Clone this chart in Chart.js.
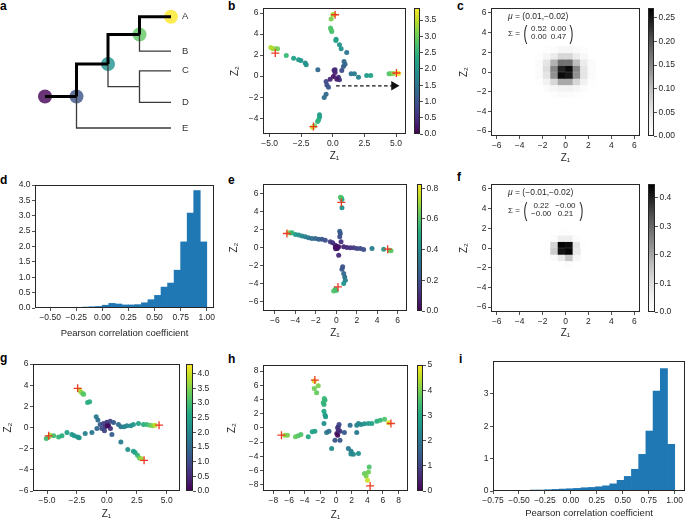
<!DOCTYPE html>
<html>
<head>
<meta charset="utf-8">
<script src="https://cdn.jsdelivr.net/npm/chart.js@4.4.1/dist/chart.umd.min.js"></script>
<style>
  html, body { margin: 0; padding: 0; background: #fff; }
  #fig { position: relative; width: 685px; height: 521px; overflow: hidden; font-family: "Liberation Sans", Arial, sans-serif; color: #262626; }
  .lbl { position: absolute; font-weight: bold; font-size: 12px; line-height: 12px; color: #000; }
  .ann { position: absolute; font-size: 8.5px; line-height: 8px; white-space: nowrap; z-index: 5; }
  .mat { position: absolute; display: flex; align-items: center; font-size: 8px; white-space: nowrap; z-index: 5; }
  .mat .par { font-size: 21px; line-height: 20px; display: inline-block; transform: scaleX(0.55); }
  .mat table { border-collapse: collapse; }
  .mat td { padding: 0 2px; line-height: 8px; text-align: center; }
</style>
</head>
<body>
<div id="fig">
  <div class="lbl" style="left:0px;top:0px">a</div>
  <div class="lbl" style="left:228px;top:0px">b</div>
  <div class="lbl" style="left:457px;top:0px">c</div>
  <div class="lbl" style="left:0px;top:174px">d</div>
  <div class="lbl" style="left:228px;top:174px">e</div>
  <div class="lbl" style="left:457px;top:171px">f</div>
  <div class="lbl" style="left:0px;top:352px">g</div>
  <div class="lbl" style="left:228px;top:353px">h</div>
  <div class="lbl" style="left:459px;top:353px">i</div>

  <div class="ann" style="left:508px;top:12px"><i>μ</i> = (0.01,−0.02)</div>
  <div class="mat" style="left:508px;top:23px"><span>Σ =&nbsp;</span><span class="par">(</span><table><tr><td>0.52</td><td>0.00</td></tr><tr><td>0.00</td><td>0.47</td></tr></table><span class="par">)</span></div>
  <div class="ann" style="left:508px;top:188px"><i>μ</i> = (−0.01,−0.02)</div>
  <div class="mat" style="left:508px;top:200px"><span>Σ =&nbsp;</span><span class="par">(</span><table><tr><td>0.22</td><td>−0.00</td></tr><tr><td>−0.00</td><td>0.21</td></tr></table><span class="par">)</span></div>
</div>
<script>
// ---------- data ----------

// a: tree (x = depth, y = vertical position), leaves A..E
const treeLeaves = ['A', 'B', 'C', 'D', 'E'];
const treeLeafY = [0, 35, 55, 87, 113];
// [x0, y0, x1, y1, onPathToA]
const treeEdges = [
  [0, 81, 1, 81, 1],
  [1, 81, 2, 48, 1],
  [2, 48, 3, 18, 1],
  [3, 18, 4, 0, 1],
  [3, 18, 4, 35, 0],
  [2, 48, 3, 71, 0],
  [3, 71, 4, 55, 0],
  [3, 71, 4, 87, 0],
  [1, 81, 4, 113, 0]
];
const treeNodeX = [0, 1, 2, 3, 4];
const treeNodeY = [81, 81, 48, 18, 0];
const treeNodeVal = [0, 0.25, 0.5, 0.75, 1];

// b: latent points [z1, z2, value]
const ptsB = [
  [0.18, 0.60, 0.5], [0.18, 0.35, 0.4], [0.10, 0.55, 0.45], [0.05, -0.03, 0.2], [-0.21, -0.29, 0.4],
  [0.45, -0.10, 0.5], [0.53, -0.35, 0.6], [0.32, -0.29, 0.3], [-0.53, -0.51, 0.8], [-0.47, -0.83, 0.9],
  [-0.34, -1.05, 1.0], [0.71, 0.54, 0.9],
  [0.84, 0.92, 1.1], [0.97, 1.14, 1.2], [0.89, 1.40, 1.3], [1.10, 2.25, 1.5], [0.66, 2.60, 1.9],
  [0.53, 2.98, 2.0], [0.24, 3.40, 2.2], [0.26, 3.52, 2.2], [-0.08, 4.25, 2.7], [-0.13, 4.41, 2.8],
  [-0.18, 4.57, 2.8], [-0.13, 5.43, 3.1], [0.00, 5.84, 3.3], [0.10, 5.87, 3.4],
  [-1.18, 0.60, 1.3], [-2.10, 1.08, 1.9], [-2.18, 1.24, 1.9], [-2.53, 1.49, 2.0], [-2.71, 1.56, 2.1],
  [-3.10, 1.71, 2.2], [-3.68, 1.97, 2.6], [-4.37, 2.60, 3.0], [-4.55, 2.60, 3.1], [-4.74, 2.60, 3.3],
  [-4.90, 2.73, 3.4],
  [1.45, 0.22, 1.5], [1.71, 0.22, 1.6], [2.03, -0.10, 1.7], [2.68, 0.06, 2.1], [3.00, 0.06, 2.2],
  [4.45, 0.22, 2.8], [4.60, 0.22, 2.9], [4.79, 0.25, 3.2], [5.10, 0.30, 3.7], [5.20, 0.25, 3.8],
  [-0.53, -1.71, 1.3], [-0.68, -2.03, 1.4], [-1.05, -3.68, 2.1], [-1.05, -3.90, 2.2], [-1.13, -4.16, 2.4],
  [-1.20, -4.30, 2.5], [-1.45, -4.73, 3.0], [-1.60, -4.86, 3.6]
];
const crossB = [[0.18, 5.84], [-4.55, 2.19], [5.03, 0.30], [-1.53, -4.79]];
const arrowB = [[0.26, -0.92], [4.84, -0.92]];

// e
const ptsE = [
  [0.49, 5.50, 0.55], [0.55, 5.32, 0.5], [0.40, 5.55, 0.6], [0.55, 4.39, 0.4],
  [-4.66, 1.62, 0.7], [-4.45, 1.60, 0.6], [-4.34, 1.62, 0.55], [-4.00, 1.44, 0.45], [-3.68, 1.37, 0.42],
  [-3.36, 1.26, 0.38], [-3.03, 1.18, 0.35], [-2.71, 1.07, 0.33], [-2.38, 1.00, 0.3], [-2.05, 1.00, 0.28],
  [-1.73, 0.92, 0.25], [-1.40, 0.92, 0.22], [-1.08, 0.81, 0.2], [-0.59, 0.63, 0.15], [-0.36, 0.52, 0.12],
  [-0.10, 0.26, 0.08], [-0.10, 0.00, 0.05],
  [0.33, 1.81, 0.25], [0.39, 1.55, 0.22], [0.33, 1.18, 0.2], [0.46, 0.63, 0.12],
  [0.23, 0.07, 0.05], [0.72, 0.07, 0.08], [1.04, 0.00, 0.1], [1.37, -0.04, 0.12], [1.70, -0.04, 0.14],
  [2.02, -0.11, 0.16], [2.35, -0.11, 0.18], [2.67, -0.22, 0.2], [3.49, -0.11, 0.35], [4.63, -0.18, 0.45],
  [5.22, -0.30, 0.6], [5.35, -0.37, 0.62],
  [0.23, -0.85, 0.1], [0.62, -2.14, 0.2], [0.55, -2.40, 0.22], [0.72, -2.88, 0.28], [0.82, -3.25, 0.3],
  [0.88, -3.62, 0.35], [0.72, -3.99, 0.42], [-0.10, -4.62, 0.55], [-0.26, -4.80, 0.6], [0.00, -4.75, 0.58],
  [0.00, 0.00, 0.02], [0.10, -0.10, 0.03], [0.05, 0.10, 0.03], [-0.05, -0.15, 0.04]
];
const crossE = [[0.49, 4.98], [-4.83, 1.55], [5.02, -0.18], [0.16, -4.36]];

// g
const ptsG = [
  [-2.28, 3.54, 3.9], [-2.14, 3.32, 3.6], [-1.94, 3.13, 3.1], [-2.00, 3.20, 3.2], [-1.61, 2.37, 2.7], [-1.44, 2.44, 2.7],
  [-4.72, -0.73, 3.8], [-4.86, -0.90, 3.5], [-5.06, -1.04, 3.0], [-4.44, -0.79, 3.0], [-4.03, -0.89, 2.8],
  [-3.75, -0.79, 2.7], [-3.33, -0.47, 2.5], [-2.92, -0.66, 2.3], [-2.72, -0.79, 2.3], [-2.44, -0.89, 2.2],
  [-2.31, -0.98, 2.2], [-1.81, -0.57, 1.9], [-1.25, -0.47, 1.7], [-0.83, -0.09, 1.4],
  [-0.89, 1.01, 1.8], [-0.75, 0.70, 1.6], [-0.56, 0.28, 1.2],
  [-0.28, 0.38, 0.8], [0.00, 0.50, 0.7], [-0.14, 0.06, 0.6], [0.14, 0.22, 0.5], [-0.42, -0.09, 1.0],
  [0.28, 0.60, 0.9], [0.56, 0.47, 1.2], [0.30, -0.10, 0.6], [-0.20, -0.30, 0.9], [0.06, 0.16, 0.1],
  [0.97, 0.28, 1.6], [1.17, 0.06, 1.7], [1.44, 0.06, 1.9], [1.67, 0.16, 2.0], [2.00, 0.16, 2.1],
  [2.22, 0.28, 2.3], [2.64, 0.38, 2.5], [3.06, 0.28, 2.7], [3.33, 0.28, 2.9], [3.61, 0.22, 3.2],
  [3.83, 0.16, 3.5], [4.03, 0.22, 3.9],
  [0.42, -0.66, 1.3], [1.17, -1.36, 1.8], [1.75, -2.09, 2.2], [2.22, -2.25, 2.4], [2.36, -2.37, 2.5],
  [2.56, -2.63, 2.8], [2.72, -2.88, 3.3], [2.90, -2.95, 3.7]
];
const crossG = [[-2.44, 3.70], [-4.86, -0.79], [4.36, 0.22], [3.11, -3.10]];

// h
const ptsH = [
  [-2.78, 6.59, 4.7], [-2.27, 5.93, 4.0], [-2.78, 5.55, 3.9], [-2.48, 4.94, 3.8], [-1.50, 4.14, 3.4],
  [-1.41, 3.90, 3.3], [-1.63, 3.58, 3.3], [-1.54, 3.29, 3.2], [-1.54, 2.35, 3.0], [-1.41, 1.79, 2.8],
  [-1.33, 1.55, 2.7], [-1.54, 0.61, 2.5],
  [-6.55, -1.04, 4.2], [-6.20, -1.04, 4.0], [-5.18, -1.27, 3.8], [-4.83, -1.13, 3.7], [-4.49, -0.94, 3.6],
  [-3.55, -1.27, 3.0], [-3.04, -0.56, 2.9], [-2.70, -0.47, 2.8], [-1.20, -0.66, 2.0], [-0.90, -0.47, 1.8],
  [-0.56, -2.92, 2.4],
  [0.30, 0.14, 1.0], [0.39, 0.47, 1.1], [0.10, -0.80, 0.3], [0.51, -0.47, 0.8], [-0.13, -1.74, 1.3],
  [0.51, -1.74, 1.3], [1.07, -0.66, 1.4], [0.30, -0.30, 0.6], [0.20, 0.00, 0.8], [0.21, -1.04, 0.1],
  [1.80, 0.38, 1.8], [2.65, 0.38, 2.2], [2.87, 0.61, 2.3], [3.21, 0.47, 2.4], [3.64, 0.56, 2.5],
  [4.15, 0.61, 2.7], [4.58, 0.61, 2.9], [5.22, 0.94, 3.1], [5.65, 1.08, 3.3], [6.20, 1.22, 3.6],
  [6.72, 0.71, 4.7], [2.65, -0.66, 2.0],
  [1.58, -2.92, 2.0], [1.93, -3.29, 2.2], [2.22, -3.72, 2.4], [2.87, -3.62, 2.5], [1.90, -3.70, 2.3],
  [4.24, -5.51, 3.6], [3.64, -6.45, 3.8], [4.15, -6.21, 3.9], [3.85, -6.78, 4.0], [4.02, -7.39, 4.6]
];
const crossH = [[-2.70, 6.73], [-6.97, -1.04], [7.02, 0.61], [4.36, -8.19]];

// c, f: 2D histogram densities, central block (rows top to bottom, cols left to right)
const heatBin = 0.65;
const heatColX = [-2.275, -1.625, -0.975, -0.325, 0.325, 0.975, 1.625, 2.275];
const heatRowY = [2.275, 1.625, 0.975, 0.325, -0.325, -0.975, -1.625, -2.275];
const heatC = [
  [0, 0.005, 0.01, 0.02, 0.02, 0.01, 0.005, 0],
  [0.005, 0.02, 0.04, 0.07, 0.07, 0.04, 0.015, 0],
  [0.01, 0.05, 0.11, 0.17, 0.17, 0.10, 0.04, 0.01],
  [0.01, 0.06, 0.15, 0.24, 0.26, 0.15, 0.05, 0.01],
  [0.01, 0.05, 0.14, 0.26, 0.25, 0.14, 0.05, 0.01],
  [0.005, 0.03, 0.07, 0.12, 0.12, 0.07, 0.03, 0.005],
  [0, 0.01, 0.02, 0.03, 0.03, 0.02, 0.01, 0],
  [0, 0, 0.005, 0.01, 0.01, 0.005, 0, 0]
];
const heatF = [
  [0, 0, 0, 0, 0, 0, 0, 0],
  [0, 0, 0, 0.005, 0.005, 0, 0, 0],
  [0, 0, 0.01, 0.06, 0.06, 0.01, 0, 0],
  [0, 0.005, 0.12, 0.44, 0.43, 0.08, 0.005, 0],
  [0, 0.005, 0.14, 0.42, 0.44, 0.07, 0, 0],
  [0, 0, 0.02, 0.07, 0.15, 0.03, 0, 0],
  [0, 0, 0, 0.005, 0.01, 0, 0, 0],
  [0, 0, 0, 0, 0, 0, 0, 0]
];

// d, i: histogram densities of Pearson correlation
const histDLo = -0.565, histDBin = 0.0626;
const histD = [0.005, 0.005, 0.01, 0.02, 0.02, 0.02, 0.03, 0.04, 0.05, 0.09, 0.15, 0.13, 0.10,
               0.10, 0.11, 0.17, 0.27, 0.41, 0.68, 0.81, 1.23, 2.15, 3.09, 3.82, 2.15];
const histILo = -0.667, histIBin = 0.0695;
const histI = [0.01, 0.01, 0.02, 0.02, 0.03, 0.03, 0.04, 0.05, 0.06, 0.07, 0.08, 0.10,
               0.11, 0.13, 0.16, 0.22, 0.33, 0.45, 0.67, 1.13, 1.85, 3.08, 3.78, 1.44];

// tick values
const ticksB_x = [-5, -2.5, 0, 2.5, 5], ticksB_y = [-4, -2, 0, 2, 4, 6];
const ticksCF = [-6, -4, -2, 0, 2, 4, 6];
const ticksD_x = [-0.5, -0.25, 0, 0.25, 0.5, 0.75, 1], ticksD_y = [0, 0.5, 1, 1.5, 2, 2.5, 3, 3.5, 4];
const ticksE = [-6, -4, -2, 0, 2, 4, 6];
const ticksG_x = [-5, -2.5, 0, 2.5, 5], ticksG_y = [-6, -4, -2, 0, 2, 4, 6];
const ticksH = [-8, -6, -4, -2, 0, 2, 4, 6, 8];
const ticksI_x = [-0.75, -0.5, -0.25, 0, 0.25, 0.5, 0.75, 1], ticksI_y = [0, 1, 2, 3];
const cbTicksB = [0, 0.5, 1, 1.5, 2, 2.5, 3, 3.5];
const cbTicksC = [0, 0.05, 0.1, 0.15, 0.2, 0.25];
const cbTicksE = [0, 0.2, 0.4, 0.6, 0.8];
const cbTicksF = [0, 0.1, 0.2, 0.3, 0.4];
const cbTicksG = [0, 0.5, 1, 1.5, 2, 2.5, 3, 3.5, 4];
const cbTicksH = [0, 1, 2, 3, 4, 5];

// ---------- helpers ----------
const FONT = '"Liberation Sans", Arial, Helvetica, sans-serif';
const INK = '#262626';
const VIRIDIS = ['#440154', '#482475', '#414487', '#355f8d', '#2a788e', '#21918c', '#22a884', '#44bf70', '#7ad151', '#bddf26', '#fde725'];
const GREYS = ['#ffffff', '#f0f0f0', '#d9d9d9', '#bdbdbd', '#969696', '#737373', '#525252', '#252525', '#000000'];
const fig = document.getElementById('fig');

function hexRgb(h) {
  return [parseInt(h.slice(1, 3), 16), parseInt(h.slice(3, 5), 16), parseInt(h.slice(5, 7), 16)];
}

function cmap(stops, t, alpha) {
  t = Math.max(0, Math.min(1, t));
  const p = t * (stops.length - 1), i = Math.min(Math.floor(p), stops.length - 2), f = p - i;
  const a = hexRgb(stops[i]), b = hexRgb(stops[i + 1]);
  const c = a.map((v, k) => Math.round(v + (b[k] - v) * f));
  return 'rgba(' + c.join(',') + ',' + (alpha === undefined ? 1 : alpha) + ')';
}

function num(v, dec) {
  return (v < -1e-9 ? '\u2212' : '') + Math.abs(v).toFixed(dec);
}

// canvas whose chart area lands on box = [left, top, right, bottom]
function place(box, padL, padT, padR, padB) {
  const cv = document.createElement('canvas');
  const left = box[0] - padL, top = box[1] - padT;
  const w = box[2] + padR - left, h = box[3] + padB - top;
  cv.width = w; cv.height = h;
  cv.style.cssText = 'position:absolute;left:' + left + 'px;top:' + top + 'px;width:' + w + 'px;height:' + h + 'px';
  fig.appendChild(cv);
  return cv;
}

function baseOptions(padT, padR, padB, padL) {
  return {
    responsive: false, animation: false, devicePixelRatio: 1, events: [],
    layout: { autoPadding: false, padding: { top: padT, right: padR, bottom: padB, left: padL } },
    plugins: { legend: { display: false }, tooltip: { enabled: false } }
  };
}

function axis(pos, range, ticks, dec, title, size, titleSize) {
  return {
    type: 'linear', position: pos, min: range[0], max: range[1], offset: false,
    grid: { display: true, drawOnChartArea: false, drawTicks: true, tickLength: 3, color: INK, lineWidth: 0.8, offset: false },
    border: { display: false },
    ticks: { font: { family: FONT, size: 8.5 }, color: INK, padding: 1.5, autoSkip: false, maxRotation: 0, callback: v => num(v, dec) },
    title: { display: !!title, text: title, font: { family: FONT, size: titleSize || 10 }, color: INK, padding: 0 },
    afterBuildTicks: s => { s.ticks = ticks.map(v => ({ value: v })); },
    afterFit: s => { if (pos === 'bottom') s.height = size; else s.width = size; }
  };
}

// full box around the plot area
const frame = {
  id: 'frame',
  afterDatasetsDraw(chart) {
    const a = chart.chartArea, c = chart.ctx;
    c.save();
    c.strokeStyle = INK;
    c.lineWidth = 1;
    c.strokeRect(a.left + 0.5, a.top + 0.5, a.right - a.left - 1, a.bottom - a.top - 1);
    c.restore();
  }
};

function ramp(chart, stops) {
  const a = chart.chartArea;
  if (!a) return stops[0];
  const g = chart.ctx.createLinearGradient(0, a.bottom, 0, a.top);
  stops.forEach((c, i) => g.addColorStop(i / (stops.length - 1), c));
  return g;
}

// ---------- panels ----------
function treePanel() {
  const cv = place([45, 15, 171, 128], 25, 15, 40, 17);
  const datasets = treeEdges.map(e => ({
    data: [{ x: e[0], y: e[1] }, { x: e[0], y: e[3] }, { x: e[2], y: e[3] }],
    showLine: true, pointRadius: 0, clip: false,
    borderColor: e[4] ? '#000' : '#3a3a3a', borderWidth: e[4] ? 3 : 1.3,
    borderJoinStyle: 'miter', order: e[4] ? 0 : 1
  }));
  datasets.push({
    data: treeNodeX.map((x, i) => ({ x, y: treeNodeY[i] })),
    pointRadius: 7, pointBorderWidth: 0, clip: false,
    pointBackgroundColor: treeNodeVal.map(v => cmap(VIRIDIS, v, 0.8)), order: 2
  });
  const opts = baseOptions(15, 0, 17, 25);
  opts.scales = {
    x: { type: 'linear', display: false, min: 0, max: 4 },
    y: {
      type: 'linear', position: 'right', reverse: true, min: 0, max: 113,
      grid: { display: false, drawTicks: false }, border: { display: false },
      ticks: { font: { family: FONT, size: 9.5 }, color: '#333', padding: 11, callback: (v, i) => treeLeaves[i] },
      afterBuildTicks: s => { s.ticks = treeLeafY.map(v => ({ value: v })); },
      afterFit: s => { s.width = 40; }
    }
  };
  new Chart(cv, { type: 'scatter', data: { datasets }, options: opts });
}

function scatterPanel(p) {
  const cv = place(p.box, p.yW, 8, 12, p.xH);
  const datasets = [
    { data: p.crosses.map(q => ({ x: q[0], y: q[1] })), pointStyle: 'cross', pointRadius: 4,
      pointBorderColor: '#ee3a24', pointBorderWidth: 1.3, order: 0 },
    { data: p.pts.map(q => ({ x: q[0], y: q[1] })), pointRadius: 2.5, pointBorderWidth: 0,
      pointBackgroundColor: p.pts.map(q => cmap(VIRIDIS, q[2] / p.cmax, 0.95)), order: 2 }
  ].concat(p.extra || []);
  const opts = baseOptions(8, 12, 0, 0);
  opts.scales = {
    x: axis('bottom', p.xr, p.xt, p.xd, 'Z\u2081', p.xH),
    y: axis('left', p.yr, p.yt, p.yd, 'Z\u2082', p.yW)
  };
  new Chart(cv, { type: 'scatter', data: { datasets }, options: opts, plugins: [frame] });
}

function heatPanel(p) {
  const cv = place(p.box, p.yW, 8, 12, p.xH);
  const datasets = p.grid.map((row, r) => ({
    data: row.map((v, k) => ({ x: heatColX[k], y: [heatRowY[r] - heatBin / 2, heatRowY[r] + heatBin / 2], v }))
             .filter(d => d.v > 0),
    backgroundColor: ctx => ctx.raw ? cmap(GREYS, ctx.raw.v / p.vmax) : '#fff',
    barPercentage: 1, categoryPercentage: 1, grouped: false, borderWidth: 0
  }));
  const opts = baseOptions(8, 12, 0, 0);
  opts.scales = {
    x: axis('bottom', [-6.5, 6.5], ticksCF, 0, 'Z\u2081', p.xH),
    y: axis('left', [-6.5, 6.5], ticksCF, 0, 'Z\u2082', p.yW)
  };
  new Chart(cv, { type: 'bar', data: { datasets }, options: opts, plugins: [frame] });
}

function histPanel(p) {
  const cv = place(p.box, p.yW, 8, 12, p.xH);
  const data = p.h.map((v, k) => ({ x: p.lo + (k + 0.5) * p.bin, y: v }));
  const opts = baseOptions(8, 12, 0, 0);
  opts.scales = {
    x: axis('bottom', p.xr, p.xt, 2, 'Pearson correlation coefficient', p.xH, 9.5),
    y: axis('left', p.yr, p.yt, p.yd, '', p.yW)
  };
  new Chart(cv, {
    type: 'bar',
    data: { datasets: [{ data, backgroundColor: '#1f77b4', barPercentage: 1, categoryPercentage: 1, borderWidth: 0 }] },
    options: opts, plugins: [frame]
  });
}

function colorbar(box, vmax, ticks, dec, stops) {
  const cv = place(box, 0, 8, 30, 8);
  const opts = baseOptions(8, 0, 8, 0);
  opts.scales = { x: { display: false }, y: axis('right', [0, vmax], ticks, dec, '', 30) };
  new Chart(cv, {
    type: 'bar',
    data: { labels: [''], datasets: [{ data: [[0, vmax]], backgroundColor: ctx => ramp(ctx.chart, stops),
      barPercentage: 1, categoryPercentage: 1, borderWidth: 0 }] },
    options: opts, plugins: [frame]
  });
}

// ---------- build ----------
treePanel();

scatterPanel({
  box: [263, 8, 406, 134], yW: 34, xH: 28, xr: [-5.52, 5.79], yr: [-5.5, 6.48],
  xt: ticksB_x, yt: ticksB_y, xd: 1, yd: 0, pts: ptsB, crosses: crossB, cmax: 3.87,
  extra: [
    { data: arrowB.map(q => ({ x: q[0], y: q[1] })), showLine: true, borderColor: '#111', borderWidth: 1.3,
      borderDash: [3.5, 2.5], pointRadius: 0, order: 1 },
    { data: [{ x: arrowB[1][0], y: arrowB[1][1] }], pointStyle: 'triangle', pointRotation: 90, pointRadius: 5.5,
      pointBackgroundColor: '#111', pointBorderWidth: 0, order: 1 }
  ]
});
colorbar([414, 8, 420, 134], 3.87, cbTicksB, 1, VIRIDIS);

heatPanel({ box: [491, 8, 640, 136], yW: 33, xH: 28, grid: heatC, vmax: 0.271 });
colorbar([648, 8, 654, 136], 0.271, cbTicksC, 2, GREYS);

histPanel({
  box: [35, 185, 214, 308], yW: 35, xH: 31, xr: [-0.645, 1.069], yr: [0, 4],
  xt: ticksD_x, yt: ticksD_y, yd: 1, h: histD, lo: histDLo, bin: histDBin
});

scatterPanel({
  box: [263, 184, 407, 311], yW: 35, xH: 28, xr: [-7.17, 6.91], yr: [-7.02, 7.02],
  xt: ticksE, yt: ticksE, xd: 0, yd: 0, pts: ptsE, crosses: crossE, cmax: 0.828
});
colorbar([417, 184, 422, 311], 0.828, cbTicksE, 1, VIRIDIS);

heatPanel({ box: [491, 184, 640, 312], yW: 33, xH: 27, grid: heatF, vmax: 0.448 });
colorbar([648, 184, 655, 312], 0.448, cbTicksF, 1, GREYS);

scatterPanel({
  box: [33, 364, 180, 491], yW: 31, xH: 29, xr: [-6.17, 6.11], yr: [-6, 6],
  xt: ticksG_x, yt: ticksG_y, xd: 1, yd: 0, pts: ptsG, crosses: crossG, cmax: 4.33
});
colorbar([186, 364, 193, 491], 4.33, cbTicksG, 1, VIRIDIS);

scatterPanel({
  box: [263, 365, 408, 491], yW: 37, xH: 30, xr: [-9.33, 9.2], yr: [-8.9, 8.85],
  xt: ticksH, yt: ticksH, xd: 0, yd: 0, pts: ptsH, crosses: crossH, cmax: 5
});
colorbar([417, 365, 423, 491], 5, cbTicksH, 0, VIRIDIS);

histPanel({
  box: [493, 361, 685, 491], yW: 25, xH: 28, xr: [-0.75, 1.1], yr: [0, 4.01],
  xt: ticksI_x, yt: ticksI_y, yd: 0, h: histI, lo: histILo, bin: histIBin
});
</script>
</body>
</html>
